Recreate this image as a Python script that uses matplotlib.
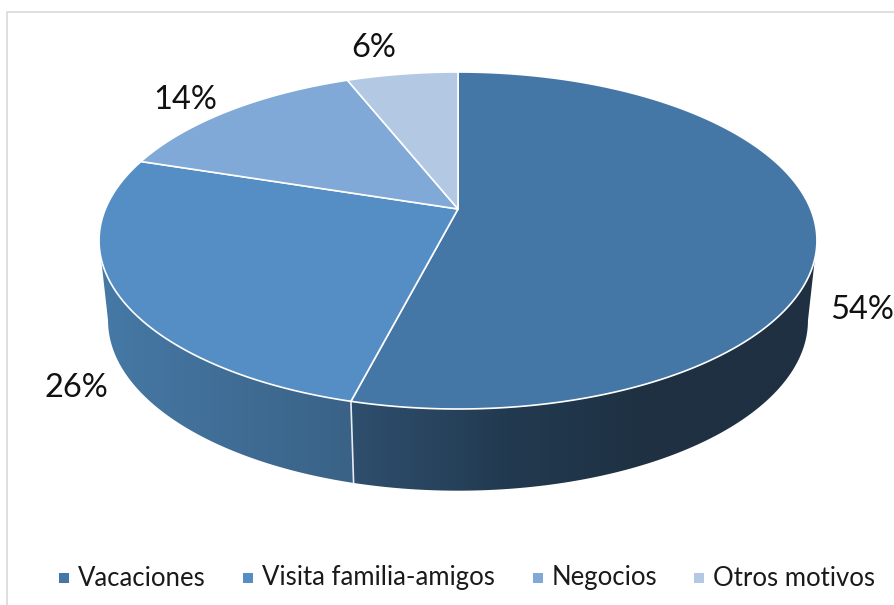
#!/usr/bin/env python
"""3D-look pie of trip motives, drawn as projected polygons (matplotlib has no 3D pie)."""
import numpy as np
import matplotlib

matplotlib.use("Agg")
import matplotlib.pyplot as plt
from matplotlib.colors import LinearSegmentedColormap
from matplotlib.patches import Polygon, Rectangle

CATEGORIES = ["Vacaciones", "Visita familia-amigos", "Negocios", "Otros motivos"]
VALUES = [54, 26, 14, 6]
LABELS = ["54%", "26%", "14%", "6%"]

COLORS = ["#4577a6", "#548ec5", "#80a9d7", "#b3c8e3"]
SIDE_COLORS = {
    0: ["#2f4f6e", "#223a50", "#1e3041", "#1e3041"],
    1: ["#4679a6", "#3a6286"],
}
BORDER = "#d9d9d9"

# screen geometry, in reference pixels
CX, CY = 458, 209      # where the slices meet
A, B, K = 352.6, 162.6, 0.187
LABEL_XY = [(862, 310), (76, 388), (185, 100), (374, 48)]
LEGEND_SQUARES = [59, 243, 533, 694]
LEGEND_Y = 578


def top_edge(theta):
    # clockwise from 12 o'clock, with a perspective squeeze towards the back
    u, v = np.sin(theta), np.cos(theta)
    d = 1 + K * v
    return CX + A * u / d, CY - B * v / d


def bottom_edge(theta):
    x, y = top_edge(theta)
    return 458 + (x - 458) * 0.975, 320.5 + (y - 240.5) * 1.01


def main() -> None:
    fig = plt.figure(figsize=(8.95, 6.05), dpi=100)
    ax = fig.add_axes([0, 0, 1, 1])
    ax.axis("off")
    plt.rcParams["font.family"] = ["Lato", "DejaVu Sans"]

    ax.plot([7.5, 7.5, 895], [605, 12, 12], color=BORDER, linewidth=1.2)

    edges = 2 * np.pi * np.cumsum([0] + VALUES) / sum(VALUES)

    # side wall: only the front part of the rim shows
    ts = np.linspace(0, 2 * np.pi, 1441)
    widest = ts[np.argmax(top_edge(ts)[0])], ts[np.argmin(top_edge(ts)[0])]
    for i, colors in SIDE_COLORS.items():
        t = np.linspace(max(edges[i], widest[0]), min(edges[i + 1], widest[1]), 200)
        xt, yt = top_edge(t)
        xb, yb = bottom_edge(t)
        poly = np.column_stack([np.r_[xt, xb[::-1]], np.r_[yt, yb[::-1]]])
        cmap = LinearSegmentedColormap.from_list("side", colors)
        im = ax.imshow(np.linspace(0, 1, 256)[None, :], cmap=cmap, aspect="auto", zorder=1,
                       extent=[poly[:, 0].min(), poly[:, 0].max(), poly[:, 1].max(), poly[:, 1].min()])
        patch = Polygon(poly, transform=ax.transData, facecolor="none", edgecolor="none")
        ax.add_patch(patch)
        im.set_clip_path(patch)
    # imshow resets the limits
    ax.set_xlim(0, 895)
    ax.set_ylim(605, 0)

    # white seam between the two visible side pieces
    xs = [top_edge(edges[1])[0], bottom_edge(edges[1])[0]]
    ys = [top_edge(edges[1])[1], bottom_edge(edges[1])[1]]
    ax.plot(xs, ys, color="#e8edf2", linewidth=1.2, zorder=2)

    # top face
    for i, color in enumerate(COLORS):
        t = np.linspace(edges[i], edges[i + 1], 300)
        x, y = top_edge(t)
        ax.fill(np.r_[CX, x], np.r_[CY, y], facecolor=color, edgecolor="white",
                linewidth=1.2, joinstyle="round", zorder=3)

    for (x, y), label in zip(LABEL_XY, LABELS):
        ax.text(x, y, label, ha="center", va="center", fontsize=23.5, color="#111111", zorder=4)

    # legend
    for x, name, color in zip(LEGEND_SQUARES, CATEGORIES, COLORS):
        ax.add_patch(Rectangle((x, LEGEND_Y - 5.5), 10.5, 10.5, facecolor=color, edgecolor="none"))
        ax.text(x + 19, LEGEND_Y, name, ha="left", va="center", fontsize=18.5, color="#1a1a1a")

    fig.savefig("out.png", dpi=100, facecolor="white")


if __name__ == "__main__":
    main()
